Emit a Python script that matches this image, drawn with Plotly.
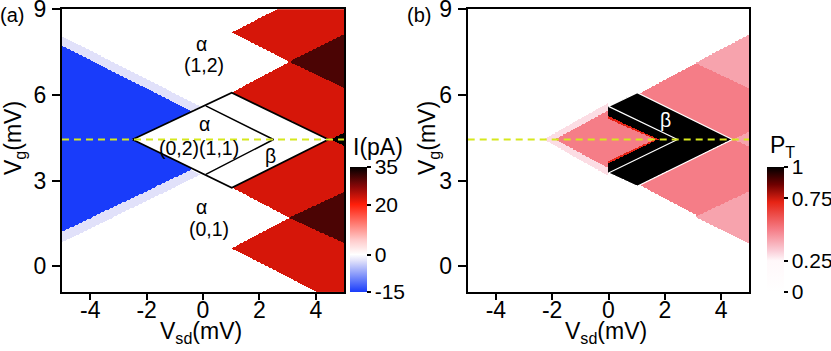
import numpy as np
import plotly.graph_objects as go

# ------------------------------------------------------------------ data
VSD_RANGE = [-5, 5]
VG_RANGE = [-0.9, 9]
VSD_TICKS = [-4, -2, 0, 2, 4]
VSD_TICK_TEXT = ["-4", "-2", "0", "2", "4"]
VG_TICKS = [0, 3, 6, 9]
VG_TICK_TEXT = ["0", "3", "6", "9"]
VG_CUT = 4.44  # dashed line

I_TICKS = [-15, 0, 20, 35]
I_TICK_TEXT = ["-15", "0", "20", "35"]
PT_TICKS = [0, 0.25, 0.75, 1]
PT_TICK_TEXT = ["0", "0.25", "0.75", "1"]

# panel (a): regions of constant current, vertices (Vsd, Vg) in mV, value in pA
A_BAND_X = [-5.1, -0.1, -2.5, -0.1, -5.1]
A_BAND_Y = [8.1, 5.6, 4.44, 3.2, 0.78]
A_BAND_I = -2.5
A_BLUE_X = [-5.1, -0.4, -2.5, -0.35, -5.1]
A_BLUE_Y = [7.77, 5.42, 4.44, 3.41, 1.15]
A_BLUE_I = -15
A_RED_TOP_X = [1.02, 2.82, 5.1, 5.1, 3.05]
A_RED_TOP_Y = [8.19, 9.1, 9.1, 8.18, 7.16]
A_RED_TOP_I = 22.5
A_DARK_TOP_X = [3.05, 5.1, 5.1]
A_DARK_TOP_Y = [7.16, 8.18, 6.19]
A_DARK_TOP_I = 30.7
A_RED_UP_X = [1.02, 3.05, 5.1, 5.1, 4.45]
A_RED_UP_Y = [6.08, 7.16, 6.19, 4.44, 4.44]
A_RED_UP_I = 22.5
A_RED_LOW_X = [1.02, 4.45, 5.1, 5.1, 3.05]
A_RED_LOW_Y = [2.75, 4.44, 4.44, 2.65, 1.69]
A_RED_LOW_I = 22.5
A_DARK_LOW_X = [3.05, 5.1, 5.1]
A_DARK_LOW_Y = [1.69, 2.65, 0.75]
A_DARK_LOW_I = 30.7
A_RED_BOT_X = [1.02, 3.05, 5.1, 5.1, 4.2]
A_RED_BOT_Y = [0.62, 1.69, 0.75, -1.0, -1.0]
A_RED_BOT_I = 22.5
A_SPOT_X = [4.5, 5.1, 5.1]
A_SPOT_Y = [4.44, 4.72, 4.16]
A_SPOT_I = 35

# diamond outlines of panel (a)
A_OUTER_X = [-2.5, 1.02, 4.45, 1.02, -2.5]
A_OUTER_Y = [4.44, 6.08, 4.44, 2.75, 4.44]
A_INNER_X = [0.1, 2.5, 0.1]
A_INNER_Y = [5.62, 4.44, 3.22]

# panel (b): regions of constant probability P_T
B_FAINT_X = [-2.3, 0.0, 0.0]
B_FAINT_Y = [4.44, 5.72, 3.16]
B_FAINT_P = 0.3
B_PINK_X = [-1.9, 5.1, 5.1]
B_PINK_Y = [4.44, 8.17, 0.73]
B_PINK_P = 0.5
B_LIGHT_TOP_X = [3.1, 5.1, 5.1]
B_LIGHT_TOP_Y = [7.12, 8.17, 6.17]
B_LIGHT_BOT_X = [3.1, 5.1, 5.1]
B_LIGHT_BOT_Y = [1.72, 2.67, 0.73]
B_LIGHT_MID_X = [4.45, 5.1, 5.1]
B_LIGHT_MID_Y = [4.44, 4.76, 4.12]
B_LIGHT_P = 0.42
B_EDGE_X = [0.0, 1.02, 4.4, 1.02, 0.0, 0.0, 1.66, 0.0]
B_EDGE_Y = [5.6, 6.08, 4.44, 2.8, 3.27, 3.68, 4.44, 5.16]
B_EDGE_P = 0.72
B_CHEV_X = [0.0, 1.02, 4.4, 1.02, 0.0, 0.0, 1.78, 0.0]
B_CHEV_Y = [5.6, 6.08, 4.44, 2.8, 3.27, 3.6, 4.44, 5.25]
B_CHEV_P = 1.0

# white outline of the beta region in panel (b)
B_OUTER_X = [0.0, 1.02, 4.4, 1.02, 0.0]
B_OUTER_Y = [5.6, 6.08, 4.44, 2.8, 3.27]
B_INNER_X = [0.0, 2.45, 0.0]
B_INNER_Y = [5.6, 4.44, 3.27]

# ------------------------------------------------------------------ raster
NX, NY = 420, 420
gx = np.linspace(VSD_RANGE[0], VSD_RANGE[1], NX)
gy = np.linspace(VG_RANGE[0], VG_RANGE[1], NY)
GX, GY = np.meshgrid(gx, gy)


def inside(px, py):
    px = np.asarray(px, float)
    py = np.asarray(py, float)
    res = np.zeros(GX.shape, bool)
    j = len(px) - 1
    for i in range(len(px)):
        xi, yi, xj, yj = px[i], py[i], px[j], py[j]
        if yi != yj:
            cond = ((yi > GY) != (yj > GY)) & (
                GX < (xj - xi) * (GY - yi) / (yj - yi) + xi)
            res ^= cond
        j = i
    return res


za = np.zeros(GX.shape, dtype=np.float32)
for rx, ry, val in [
    (A_BAND_X, A_BAND_Y, A_BAND_I),
    (A_BLUE_X, A_BLUE_Y, A_BLUE_I),
    (A_RED_TOP_X, A_RED_TOP_Y, A_RED_TOP_I),
    (A_DARK_TOP_X, A_DARK_TOP_Y, A_DARK_TOP_I),
    (A_RED_UP_X, A_RED_UP_Y, A_RED_UP_I),
    (A_RED_LOW_X, A_RED_LOW_Y, A_RED_LOW_I),
    (A_DARK_LOW_X, A_DARK_LOW_Y, A_DARK_LOW_I),
    (A_RED_BOT_X, A_RED_BOT_Y, A_RED_BOT_I),
    (A_SPOT_X, A_SPOT_Y, A_SPOT_I),
]:
    za[inside(rx, ry)] = val

zb = np.zeros(GX.shape, dtype=np.float32)
for rx, ry, val in [
    (B_FAINT_X, B_FAINT_Y, B_FAINT_P),
    (B_PINK_X, B_PINK_Y, B_PINK_P),
    (B_LIGHT_TOP_X, B_LIGHT_TOP_Y, B_LIGHT_P),
    (B_LIGHT_BOT_X, B_LIGHT_BOT_Y, B_LIGHT_P),
    (B_LIGHT_MID_X, B_LIGHT_MID_Y, B_LIGHT_P),
    (B_EDGE_X, B_EDGE_Y, B_EDGE_P),
    (B_CHEV_X, B_CHEV_Y, B_CHEV_P),
]:
    zb[inside(rx, ry)] = val

# ------------------------------------------------------------------ figure
W, H = 831, 351
FONT = "Liberation Sans, Arial, Helvetica, sans-serif"


def fx(p):
    return p / W


def fy(p):
    return 1 - p / H


CS_A = [[0, "rgb(25,60,250)"], [0.12, "rgb(120,140,250)"],
        [0.25, "rgb(225,225,250)"], [0.3, "rgb(255,255,255)"],
        [0.42, "rgb(255,200,200)"], [0.7, "rgb(255,30,10)"],
        [0.84, "rgb(140,8,8)"], [1, "rgb(0,0,0)"]]
CS_B = [[0, "rgb(255,255,255)"], [0.25, "rgb(255,248,250)"],
        [0.33, "rgb(250,205,215)"], [0.5, "rgb(245,125,135)"],
        [0.72, "rgb(230,35,20)"], [0.86, "rgb(110,0,0)"],
        [1, "rgb(0,0,0)"]]

fig = go.Figure()

cb_common = dict(thickness=16.5, lenmode="pixels", len=125, yanchor="middle",
                 y=fy(229.5), xanchor="left", outlinewidth=0, xpad=0, ypad=0,
                 ticks="outside", ticklen=4, tickwidth=1.5, tickcolor="black",
                 ticklabeloverflow="allow",
                 tickfont=dict(size=21, color="black", family=FONT))

fig.add_trace(go.Heatmap(
    x=gx, y=gy, z=za, zmin=-15, zmax=35, colorscale=CS_A, zsmooth=False,
    hoverinfo="skip", xaxis="x", yaxis="y",
    colorbar=dict(x=fx(349.5), tickvals=I_TICKS, ticktext=I_TICK_TEXT,
                  **cb_common)))
fig.add_trace(go.Heatmap(
    x=gx, y=gy, z=zb, zmin=0, zmax=1, colorscale=CS_B, zsmooth=False,
    hoverinfo="skip", xaxis="x2", yaxis="y2",
    colorbar=dict(x=fx(766.7), tickvals=PT_TICKS, ticktext=PT_TICK_TEXT,
                  **cb_common)))

# outlines
fig.add_trace(go.Scatter(x=A_OUTER_X, y=A_OUTER_Y, mode="lines",
                         line=dict(color="black", width=1.8),
                         hoverinfo="skip", showlegend=False))
fig.add_trace(go.Scatter(x=A_INNER_X, y=A_INNER_Y, mode="lines",
                         line=dict(color="black", width=1.5),
                         hoverinfo="skip", showlegend=False))
fig.add_trace(go.Scatter(x=B_OUTER_X, y=B_OUTER_Y, mode="lines",
                         line=dict(color="white", width=1.2),
                         hoverinfo="skip", showlegend=False,
                         xaxis="x2", yaxis="y2"))
fig.add_trace(go.Scatter(x=B_INNER_X, y=B_INNER_Y, mode="lines",
                         line=dict(color="white", width=1.2),
                         hoverinfo="skip", showlegend=False,
                         xaxis="x2", yaxis="y2"))

# dashed cut lines
for xa, ya in [("x", "y"), ("x2", "y2")]:
    fig.add_trace(go.Scatter(x=VSD_RANGE, y=[VG_CUT, VG_CUT], mode="lines",
                             line=dict(color="rgb(214,232,30)", width=2,
                                       dash="7px,5px"),
                             hoverinfo="skip", showlegend=False,
                             xaxis=xa, yaxis=ya))

ax_common = dict(showline=True, mirror=True, linewidth=2, linecolor="black",
                 ticks="outside", tickwidth=2, tickcolor="black",
                 showgrid=False, zeroline=False, ticklabeloverflow="allow",
                 tickfont=dict(size=23, color="black", family=FONT))
YDOM = [fy(292), fy(9.3)]
fig.update_layout(
    width=W, height=H,
    margin=dict(l=0, r=0, t=0, b=0, pad=0, autoexpand=False),
    paper_bgcolor="white", plot_bgcolor="white", showlegend=False,
    xaxis=dict(domain=[fx(62), fx(344)], range=VSD_RANGE, tickvals=VSD_TICKS,
               ticktext=VSD_TICK_TEXT, ticklen=6, ticklabelstandoff=-10,
               anchor="y", **ax_common),
    yaxis=dict(domain=YDOM, range=VG_RANGE, tickvals=VG_TICKS,
               ticktext=VG_TICK_TEXT, ticklen=8, ticklabelstandoff=1,
               anchor="x", **ax_common),
    xaxis2=dict(domain=[fx(467.7), fx(749.3)], range=VSD_RANGE,
                tickvals=VSD_TICKS, ticktext=VSD_TICK_TEXT, ticklen=6,
                ticklabelstandoff=-10, anchor="y2", **ax_common),
    yaxis2=dict(domain=YDOM, range=VG_RANGE, tickvals=VG_TICKS,
                ticktext=VG_TICK_TEXT, ticklen=8, ticklabelstandoff=1,
                anchor="x2", **ax_common),
)

ann = []


def paper_text(text, x, y, size=23, angle=0, color="black"):
    ann.append(dict(text=text, x=fx(x), y=fy(y), xref="paper", yref="paper",
                    showarrow=False, textangle=angle, xanchor="center",
                    yanchor="middle",
                    font=dict(size=size, color=color, family=FONT)))


def data_text(text, x, y, xr, yr, size=19.5, color="black"):
    ann.append(dict(text=text, x=x, y=y, xref=xr, yref=yr, showarrow=False,
                    xanchor="center", yanchor="middle",
                    font=dict(size=size, color=color, family=FONT)))


paper_text("(a)", 12, 15, size=20)
paper_text("(b)", 419, 15, size=20)
paper_text("V<sub>g</sub>(mV)", 15, 138, angle=-90)
paper_text("V<sub>g</sub>(mV)", 429, 138, angle=-90)
paper_text("V<sub>sd</sub>(mV)", 201, 332)
paper_text("V<sub>sd</sub>(mV)", 606, 332)
paper_text("I(pA)", 378, 147)
paper_text("P<sub>T</sub>", 782, 146)

data_text("α", -0.06, 7.77, "x", "y")
data_text("(1,2)", 0.03, 7.05, "x", "y")
data_text("α", 0.06, 4.98, "x", "y")
data_text("(0,2)(1,1)", -0.13, 4.13, "x", "y")
data_text("β", 2.41, 3.86, "x", "y")
data_text("α", -0.06, 2.08, "x", "y")
data_text("(0,1)", 0.21, 1.32, "x", "y")
data_text("β", 2.04, 5.12, "x2", "y2", color="white")

fig.update_layout(annotations=ann)
fig.write_html("out.html",
               config={"displayModeBar": False},
               post_script="document.body.style.margin='0';"
                           "document.body.style.overflow='hidden';")
